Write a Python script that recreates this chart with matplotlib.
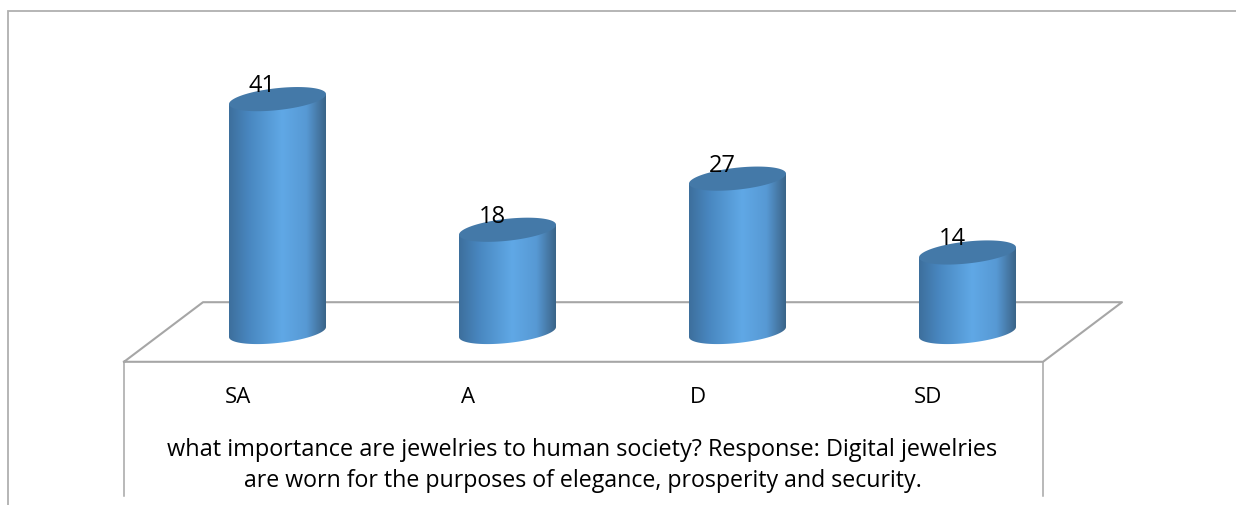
import numpy as np
import matplotlib
matplotlib.use("Agg")
import matplotlib.pyplot as plt
from matplotlib.colors import LinearSegmentedColormap
from matplotlib.patches import PathPatch
from matplotlib.path import Path

categories = ["SA", "A", "D", "SD"]
values = [41, 18, 27, 14]
title_lines = [
    "what importance are jewelries to human society? Response: Digital jewelries",
    "are worn for the purposes of elegance, prosperity and security.",
]

W, H = 1236, 506
plt.rcParams["font.family"] = ["Open Sans", "DejaVu Sans"]
fig = plt.figure(figsize=(W / 100, H / 100), dpi=100, facecolor="white")

# Chart furniture is laid out in pixel coordinates.
bg = fig.add_axes([0, 0, 1, 1], zorder=0)
bg.set_xlim(0, W)
bg.set_ylim(H, 0)
bg.axis("off")
GREY = "#a6a6a6"
bg.plot([7.5, 7.5, 1236], [506, 11.5, 11.5], color="#b0b0b0", lw=1.3, solid_joinstyle="miter")
bg.plot([124, 203, 1122, 1043, 124], [362.8, 303.2, 303.2, 362.8, 362.8], color=GREY, lw=1.5)
bg.plot([124, 124], [362.8, 497], color=GREY, lw=1.1)
bg.plot([1043, 1043], [362.8, 497], color=GREY, lw=1.1)

# Value axes: one category step is 230 px, one unit of value is 5.68 px.
x0, step, y0, unit = 277.5, 230.0, 333.0, 5.68
PAD_X, PAD_Y = 0.5, 5.0
XLIM = (-PAD_X, 3 + PAD_X)
YLIM = (-PAD_Y, 41 + PAD_Y)
ax = fig.add_axes(
    [(x0 - PAD_X * step) / W, 1 - (y0 + PAD_Y * unit) / H,
     (3 + 2 * PAD_X) * step / W, (41 + 2 * PAD_Y) * unit / H],
    zorder=1,
)
ax.axis("off")
ax.patch.set_alpha(0)

shade = LinearSegmentedColormap.from_list(
    "cyl",
    [(0, "#3d6f9c"), (0.2, "#4886bf"), (0.55, "#60a8e6"), (0.8, "#5799d4"), (0.94, "#44749f"), (1, "#3a6488")],
)
gradient = np.linspace(0, 1, 256)[None, :]

A_PX, B_PX, SKEW_PX = 48.5, 11.0, 5.0
a = A_PX / step
b = B_PX / unit
k = SKEW_PX / unit


def rim(cx, cy, t):
    """Point on the tilted elliptical rim of a cylinder."""
    return cx + a * np.cos(t), cy + k * np.cos(t) + b * np.sin(t)


for i, (cat, val) in enumerate(zip(categories, values)):
    # Side wall: lower rim joined to the rim at the top value.
    t_low = np.linspace(np.pi, 2 * np.pi, 80)
    lx, ly = rim(i, 0, t_low)
    wall = np.column_stack([
        np.r_[i - a, lx, i + a, i - a],
        np.r_[val - k, ly, val + k, val - k],
    ])
    patch = PathPatch(Path(wall), fc="none", ec="none")
    ax.add_patch(patch)
    img = ax.imshow(
        gradient, cmap=shade, aspect="auto", interpolation="bilinear",
        extent=(i - a, i + a, -4, val + 3), zorder=2,
    )
    img.set_clip_path(patch)

    # Top cap.
    t = np.linspace(0, 2 * np.pi, 160)
    tx, ty = rim(i, val, t)
    ax.fill(tx, ty, color="#4479a8", lw=0, zorder=3)

    ax.text(i - 15.5 / step, val + 14 / unit, str(val), ha="center", va="center",
            fontsize=17, color="black", zorder=4, clip_on=False)
    ax.text(i - 39.5 / step, (y0 - 398) / unit, cat, ha="center", va="center",
            fontsize=16, color="black", clip_on=False)

ax.set_xlim(*XLIM)
ax.set_ylim(*YLIM)

for line, y, size in zip(title_lines, (450.5, 481.5), (16.9, 16.65)):
    bg.text(582.5, y, line, ha="center", va="center", fontsize=size, color="black")

fig.savefig("out.png", dpi=100)
